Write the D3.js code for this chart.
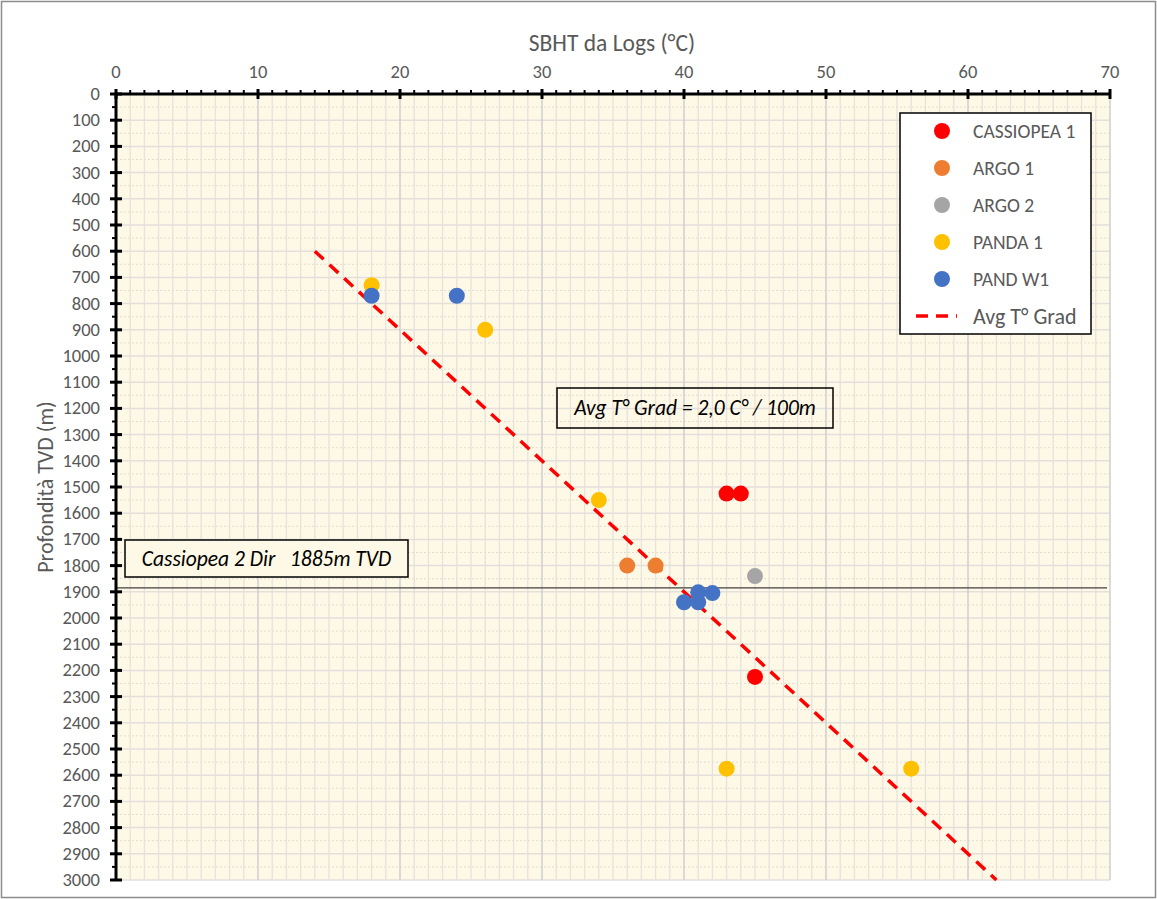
<!DOCTYPE html>
<html><head><meta charset="utf-8">
<script src="https://cdn.jsdelivr.net/npm/d3@7"></script>
<style>
html,body{margin:0;padding:0;background:#fff;}
svg text{font-family:Carlito, Lato, "Open Sans", "Liberation Sans", sans-serif;}
</style></head>
<body>
<svg id="chart" width="1157" height="899"></svg>
<script>
// ---- data ----
const seriesNames = ["CASSIOPEA 1", "ARGO 1", "ARGO 2", "PANDA 1", "PAND W1"];
const seriesColors = ["#FF0000", "#ED7D31", "#A5A5A5", "#FFC000", "#4472C4"];
const cassiopea1 = [[43, 1525], [44, 1525], [45, 2225]];
const argo1 = [[36, 1800], [38, 1800]];
const argo2 = [[45, 1840]];
const panda1 = [[18, 730], [26, 900], [34, 1550], [43, 2575], [56, 2575]];
const pandW1 = [[18, 770], [24, 770], [40, 1940], [41, 1940], [41, 1902], [42, 1905]];
const gradLine = [[14, 600], [62, 3000]];
const gradLabel = "Avg T° Grad";
const cassiopea2Depth = 1885;
const xTicks = [0, 10, 20, 30, 40, 50, 60, 70];
const yTicks = d3.range(0, 3001, 100);
const xTitle = "SBHT da Logs (°C)";
const yTitle = "Profondità TVD (m)";
const note1 = "Avg T° Grad = 2,0 C° / 100m";
const note2 = "Cassiopea 2 Dir   1885m TVD";

const allSeries = [cassiopea1, argo1, argo2, panda1, pandW1];

// ---- layout ----
const svg = d3.select("#chart");
const L = 116, R = 1110, T = 94, B = 880;
const x = d3.scaleLinear().domain([0, 70]).range([L, R]);
const y = d3.scaleLinear().domain([0, 3000]).range([T, B]);
const gray = "#595959";

// outer border
svg.append("rect").attr("x", 1.5).attr("y", 1.5).attr("width", 1154).attr("height", 896)
  .attr("fill", "#fff").attr("stroke", "#8c8c8c").attr("stroke-width", 1.5);

// plot background
svg.append("rect").attr("x", L).attr("y", T).attr("width", R - L).attr("height", B - T).attr("fill", "#FEF8E6");

// grid
const grid = svg.append("g");
grid.selectAll(".hm").data(d3.range(50, 3000, 100)).join("line")
  .attr("x1", L).attr("x2", R).attr("y1", d => y(d)).attr("y2", d => y(d))
  .attr("stroke", "#e2ddd3").attr("stroke-width", 1).attr("stroke-dasharray", "2,2");
grid.selectAll(".vm").data(d3.range(1, 70).filter(v => v % 10 !== 0)).join("line")
  .attr("y1", T).attr("y2", B).attr("x1", d => x(d)).attr("x2", d => x(d))
  .attr("stroke", "#e6e2dc").attr("stroke-width", 1.3);
grid.selectAll(".h").data(d3.range(100, 3001, 100)).join("line")
  .attr("x1", L).attr("x2", R).attr("y1", d => y(d)).attr("y2", d => y(d))
  .attr("stroke", "#e3e0dc").attr("stroke-width", 1.5);
grid.selectAll(".v").data(d3.range(10, 71, 10)).join("line")
  .attr("y1", T).attr("y2", B).attr("x1", d => x(d)).attr("x2", d => x(d))
  .attr("stroke", "#cfcfcf").attr("stroke-width", 1.5);

// horizontal Cassiopea 2 line
svg.append("line").attr("x1", L).attr("x2", R - 3).attr("y1", y(cassiopea2Depth)).attr("y2", y(cassiopea2Depth))
  .attr("stroke", "#404040").attr("stroke-width", 1.3);

// annotation boxes
function noteBox(bx, by, bw, bh, txt, fill) {
  svg.append("rect").attr("x", bx).attr("y", by).attr("width", bw).attr("height", bh)
    .attr("fill", fill).attr("stroke", "#000").attr("stroke-width", 1.5);
  svg.append("text").attr("x", bx + bw / 2).attr("y", by + bh / 2 + 7).attr("text-anchor", "middle")
    .attr("font-size", 21.5).attr("font-style", "italic").attr("fill", "#000").style("white-space", "pre").text(txt);
}
noteBox(557, 388, 276, 40, note1, "none");
noteBox(125, 540, 283, 37, note2, "#FEF8E6");

// gradient line
svg.append("line").attr("x1", x(gradLine[0][0])).attr("y1", y(gradLine[0][1]))
  .attr("x2", x(gradLine[1][0])).attr("y2", y(gradLine[1][1]))
  .attr("stroke", "#FF0000").attr("stroke-width", 3.5).attr("stroke-dasharray", "12,8");

// points
allSeries.forEach((s, i) => {
  svg.append("g").selectAll("circle").data(s).join("circle")
    .attr("cx", d => x(d[0])).attr("cy", d => y(d[1])).attr("r", 8)
    .attr("fill", seriesColors[i]);
});

// axes
const ax = svg.append("g");
ax.selectAll(".tm").data(d3.range(1, 70).filter(v => v % 10 !== 0)).join("line")
  .attr("x1", d => x(d)).attr("x2", d => x(d)).attr("y1", T - 4).attr("y2", T)
  .attr("stroke", "#000").attr("stroke-width", 2);
ax.selectAll(".tM").data(xTicks).join("line")
  .attr("x1", d => x(d)).attr("x2", d => x(d)).attr("y1", T - 5).attr("y2", T + 5)
  .attr("stroke", "#000").attr("stroke-width", 3);
ax.selectAll(".lm").data(d3.range(50, 3000, 100)).join("line")
  .attr("x1", L - 4).attr("x2", L).attr("y1", d => y(d)).attr("y2", d => y(d))
  .attr("stroke", "#000").attr("stroke-width", 2);
ax.selectAll(".lM").data(yTicks).join("line")
  .attr("x1", L - 6).attr("x2", L + 6).attr("y1", d => y(d)).attr("y2", d => y(d))
  .attr("stroke", "#000").attr("stroke-width", 3);
ax.append("line").attr("x1", L).attr("x2", R).attr("y1", T).attr("y2", T).attr("stroke", "#000").attr("stroke-width", 3);
ax.append("line").attr("x1", L).attr("x2", L).attr("y1", T - 1.5).attr("y2", B).attr("stroke", "#000").attr("stroke-width", 3);

// tick labels
ax.selectAll(".xl").data(xTicks).join("text")
  .attr("x", d => x(d)).attr("y", 78).attr("text-anchor", "middle")
  .attr("font-size", 18.5).attr("fill", gray).text(d => d);
ax.selectAll(".yl").data(yTicks).join("text")
  .attr("x", 100).attr("y", d => y(d) + 6).attr("text-anchor", "end")
  .attr("font-size", 18.5).attr("fill", gray).text(d => d);

// titles
svg.append("text").attr("x", 612).attr("y", 51).attr("text-anchor", "middle")
  .attr("font-size", 23.5).attr("fill", gray).text(xTitle);
svg.append("text").attr("transform", "translate(53,487) rotate(-90)").attr("text-anchor", "middle")
  .attr("font-size", 22).attr("fill", gray).text(yTitle);

// legend
const lg = svg.append("g");
lg.append("rect").attr("x", 900).attr("y", 113).attr("width", 191).attr("height", 221)
  .attr("fill", "#fff").attr("stroke", "#000").attr("stroke-width", 1.5);
seriesNames.forEach((n, i) => {
  const cy = 131 + i * 37;
  lg.append("circle").attr("cx", 942).attr("cy", cy).attr("r", 8).attr("fill", seriesColors[i]);
  lg.append("text").attr("x", 973).attr("y", cy + 7).attr("font-size", 19.5).attr("fill", gray).text(n);
});
lg.append("line").attr("x1", 916).attr("x2", 957).attr("y1", 316).attr("y2", 316)
  .attr("stroke", "#FF0000").attr("stroke-width", 3.5).attr("stroke-dasharray", "12,8");
lg.append("text").attr("x", 973).attr("y", 324).attr("font-size", 22).attr("fill", gray).text(gradLabel);
</script>
</body></html>
